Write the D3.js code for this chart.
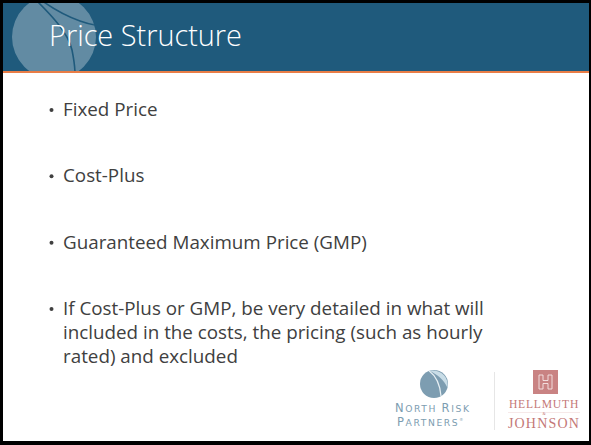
<!DOCTYPE html>
<html>
<head>
<meta charset="utf-8">
<script src="https://cdn.jsdelivr.net/npm/d3@7"></script>
<style>
  html, body { margin: 0; padding: 0; background: #fff; }
  svg { display: block; }
</style>
</head>
<body>
<div id="slide"></div>
<script>
// slide content
const titleText = 'Price Structure';
const bullets = [
    ['Fixed Price'],
    ['Cost-Plus'],
    ['Guaranteed Maximum Price (GMP)'],
    ['If Cost-Plus or GMP, be very detailed in what will',
     'included in the costs, the pricing (such as hourly',
     'rated) and excluded']
];
const nrpLines = [['N', 'ORTH ', 'R', 'ISK'], ['P', 'ARTNERS']];
const hjLines = ['HELLMUTH', '&', 'JOHNSON'];

const W = 591, H = 445;
const colors = {
    header: '#1f5a7c',
    accent: '#e97d46',
    text: '#404040',
    nrp: '#7d9db1',
    hj: '#c47877'
};

const svg = d3.select('#slide').append('svg')
    .attr('width', W)
    .attr('height', H);

// frame
svg.append('rect').attr('width', W).attr('height', H).attr('fill', '#000');
svg.append('rect')
    .attr('x', 3).attr('y', 3)
    .attr('width', W - 5).attr('height', H - 7)
    .attr('fill', '#fff');

// header band
svg.append('rect')
    .attr('x', 3).attr('y', 3)
    .attr('width', W - 5).attr('height', 68)
    .attr('fill', colors.header);
svg.append('rect')
    .attr('x', 3).attr('y', 71)
    .attr('width', W - 5).attr('height', 2)
    .attr('fill', colors.accent);

// watermark circle with the two swooshes
let defs = svg.append('defs');
defs.append('clipPath').attr('id', 'hdr-clip')
    .append('rect').attr('x', 3).attr('y', 3).attr('width', W - 5).attr('height', 68);
defs.append('clipPath').attr('id', 'circ-clip')
    .append('circle').attr('cx', 54).attr('cy', 37).attr('r', 42);

let mark = svg.append('g').attr('clip-path', 'url(#hdr-clip)');
mark.append('circle')
    .attr('cx', 54).attr('cy', 37).attr('r', 42)
    .attr('fill', '#fff').attr('fill-opacity', 0.3);
let swoosh = mark.append('g').attr('clip-path', 'url(#circ-clip)')
    .attr('fill', 'none').attr('stroke', colors.header).attr('stroke-width', 1.6);
swoosh.append('path').attr('d', 'M36,0 C50,14 68,32 72,50 C74,60 75,66 75,74');
swoosh.append('path').attr('d', 'M41,0 C52,8 66,16 80,21 C88,24 94,25 100,26');

// title
let title = svg.append('text')
    .attr('x', 49).attr('y', 46)
    .attr('fill', '#fff')
    .style('font-family', '"Open Sans", sans-serif')
    .style('font-weight', 300)
    .style('font-size', '30px')
    .text(titleText);

// font size that makes the text span the given width
function fitWidth(sel, target) {
    let size = parseFloat(sel.style('font-size'));
    let w = sel.node().getComputedTextLength();
    return size * target / w;
}
title.style('font-size', fitWidth(title, 193) + 'px');

// bullets
const yScale = d3.scaleLinear().domain([0, bullets.length - 1]).range([116, 315]);
const lineHeight = 24;

let probe = svg.append('text')
    .style('font-family', '"Open Sans", sans-serif')
    .style('font-size', '20px')
    .text(bullets[2][0]);
const bodySize = fitWidth(probe, 304);
probe.remove();

let items = svg.append('g').selectAll('g.item')
    .data(bullets)
    .enter().append('g').classed('item', true)
    .attr('transform', function (d, i) { return 'translate(0,' + yScale(i) + ')'; });

items.append('circle')
    .attr('cx', 51.5).attr('cy', -6)
    .attr('r', 2)
    .attr('fill', colors.text);

items.selectAll('text.line')
    .data(function (d) { return d; })
    .enter().append('text').classed('line', true)
    .attr('x', 63)
    .attr('y', function (d, i) { return i * lineHeight; })
    .attr('fill', colors.text)
    .style('font-family', '"Open Sans", sans-serif')
    .style('font-size', bodySize + 'px')
    .text(function (d) { return d; });

// North Risk Partners logo
let nrp = svg.append('g');
nrp.append('circle').attr('cx', 434).attr('cy', 384).attr('r', 14).attr('fill', colors.nrp);
nrp.append('path')
    .attr('d', 'M429,370.8 C440,369 449,376 447.6,388 C444,380 437,374 429,370.8 Z')
    .attr('fill', '#c9dde7');
nrp.append('path')
    .attr('d', 'M429,370.8 C436,376 440,384 441,396')
    .attr('fill', 'none').attr('stroke', '#e8f0f4').attr('stroke-width', 1.2);

let nrpText = nrp.selectAll('text')
    .data(nrpLines)
    .enter().append('text')
    .attr('x', function (d, i) { return i === 0 ? 395 : 397; })
    .attr('y', function (d, i) { return 412 + i * 14; })
    .attr('fill', colors.nrp)
    .style('font-family', '"DejaVu Sans", sans-serif')
    .style('letter-spacing', '1.6px');
nrpText.selectAll('tspan')
    .data(function (d) { return d; })
    .enter().append('tspan')
    .style('font-size', function (d, i) { return i % 2 === 0 ? '11.5px' : '9.2px'; })
    .text(function (d) { return d; });
nrpText.filter(function (d, i) { return i === 1; })
    .append('tspan')
    .attr('dy', -5)
    .style('font-size', '4px')
    .text('\u00ae');

// divider
svg.append('line')
    .attr('x1', 494.5).attr('x2', 494.5)
    .attr('y1', 372).attr('y2', 430)
    .attr('stroke', '#e6e6e6').attr('stroke-width', 1);

// Hellmuth & Johnson logo
let hj = svg.append('g');
hj.append('rect')
    .attr('x', 533).attr('y', 370).attr('width', 25).attr('height', 24)
    .attr('fill', '#c98383');
hj.append('path')
    .attr('d', 'M539,375 h4 v5.5 h5 v-5.5 h4 v14 h-4 v-5.5 h-5 v5.5 h-4 Z')
    .attr('fill', 'none').attr('stroke', '#f6e6e6').attr('stroke-width', 0.9);
hj.append('line')
    .attr('x1', 508).attr('x2', 580)
    .attr('y1', 412.5).attr('y2', 412.5)
    .attr('stroke', '#f0dada').attr('stroke-width', 0.6);

hj.selectAll('text')
    .data(hjLines)
    .enter().append('text')
    .attr('x', 544)
    .attr('y', function (d, i) { return [408, 415, 428][i]; })
    .attr('text-anchor', 'middle')
    .attr('fill', colors.hj)
    .style('font-family', '"Liberation Serif", serif')
    .style('font-size', function (d, i) { return ['11.6px', '4px', '14px'][i]; })
    .style('letter-spacing', function (d, i) { return ['0.8px', '0', '1.2px'][i]; })
    .text(function (d) { return d; });
</script>
</body>
</html>
